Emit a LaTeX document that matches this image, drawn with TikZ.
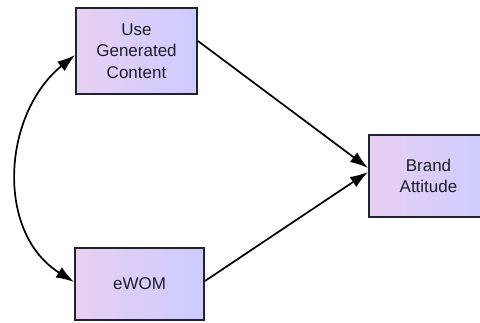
\documentclass[tikz,border=0pt]{standalone}
\usepackage{fontspec}
\setmainfont{Liberation Sans}
\usetikzlibrary{arrows.meta}
\definecolor{boxleft}{RGB}{232,208,242}
\definecolor{boxright}{RGB}{204,204,255}
\definecolor{boxline}{RGB}{35,35,45}
\definecolor{txt}{RGB}{30,30,40}
\begin{document}
\begin{tikzpicture}[x=1pt,y=-1pt,
  varbox/.style={draw=boxline, line width=1.9pt, left color=boxleft, right color=boxright,
    align=center, text=txt, font=\fontsize{17}{21.7}\selectfont, inner sep=0pt},
  path/.style={line width=1.7pt, -{Latex[length=18pt,width=12pt]}},
  cov/.style={line width=1.7pt, {Latex[length=18pt,width=12pt]}-{Latex[length=18pt,width=12pt]}}]
\useasboundingbox (0,0) rectangle (480,323);
\node[varbox, minimum width=121pt, minimum height=86pt] (ugc) at (136.5,51) {Use\\Generated\\Content};
\node[varbox, minimum width=129pt, minimum height=72pt] (ewom) at (139.5,284) {eWOM};
\node[varbox, minimum width=119pt, minimum height=82pt] (ba) at (428.5,176) {Brand\\Attitude};
\draw[path] ([yshift=10pt]ugc.east) -- ([yshift=8pt]ba.west);
\draw[path] ([yshift=3pt]ewom.east) -- ([yshift=4pt]ba.west);
\draw[cov] ([yshift=-4pt]ugc.west) to[out=219, in=148, looseness=1.05] ([yshift=2pt]ewom.west);
\end{tikzpicture}
\end{document}
